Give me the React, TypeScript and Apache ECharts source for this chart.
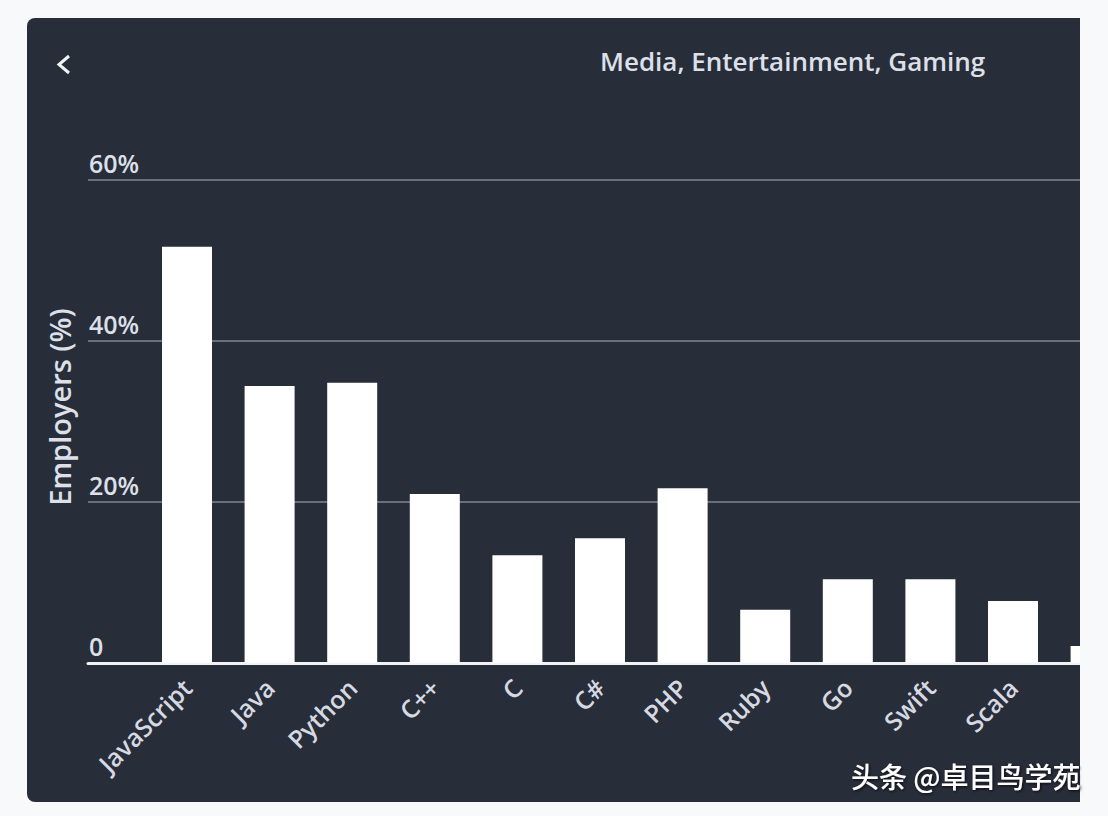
import React, { useEffect, useRef } from "react";
import * as echarts from "echarts";

const categories = ["JavaScript", "Java", "Python", "C++", "C", "C#", "PHP", "Ruby", "Go", "Swift", "Scala", ""];
const employersPct = [51.7, 34.4, 34.8, 21.0, 13.4, 15.5, 21.7, 6.6, 10.4, 10.4, 7.7, 2.1];
const yTicks = [0, 20, 40, 60];
const titleText = "Media, Entertainment, Gaming";
const yName = "Employers (%)";

export default function App() {
  const ref = useRef<HTMLDivElement>(null);
  useEffect(() => {
    const chart = echarts.init(ref.current!, null, { renderer: "svg" });
    const font = "'Open Sans', Roboto, sans-serif";
    const labelColor = "#dde0e8";
    chart.setOption({
      animation: false,
      backgroundColor: "#f8f9fa",
      title: {
        text: titleText,
        left: 600,
        top: 48,
        padding: 0,
        textStyle: { color: labelColor, fontSize: 26, fontWeight: 600, fontFamily: font },
      },
      grid: [
        { left: 88, right: 0, top: 180, bottom: 153 },
        { left: 145.7, width: 82.6 * 12, top: 180, bottom: 153 },
      ],
      xAxis: [
        {
          gridIndex: 0,
          type: "value",
          min: 0,
          max: 1,
          axisLine: { show: true, onZero: false, lineStyle: { color: "#f2f3f5", width: 3 } },
          axisTick: { show: false },
          axisLabel: { show: false },
          splitLine: { show: false },
        },
        {
          gridIndex: 1,
          type: "category",
          data: categories,
          axisLine: { show: false },
          axisTick: { show: false },
          axisLabel: {
            rotate: 45,
            margin: 20,
            interval: 0,
            color: "#d6d9e1",
            fontSize: 25,
            fontWeight: 600,
            fontFamily: font,
          },
        },
      ],
      yAxis: [
        {
          gridIndex: 0,
          type: "value",
          min: yTicks[0],
          max: yTicks[yTicks.length - 1],
          interval: 20,
          axisLine: { show: false },
          axisTick: { show: false },
          axisLabel: {
            inside: true,
            margin: 1,
            align: "left",
            verticalAlign: "bottom",
            padding: [0, 0, 5, 0],
            color: labelColor,
            fontSize: 25,
            fontWeight: 600,
            fontFamily: font,
            formatter: (v: number) => (v === 0 ? "0" : v + "%"),
          },
          splitLine: { show: true, lineStyle: { color: "#6a6f7b", width: 2 } },
        },
        {
          gridIndex: 1,
          type: "value",
          min: yTicks[0],
          max: yTicks[yTicks.length - 1],
          show: false,
          splitLine: { show: false },
        },
      ],
      series: [
        {
          type: "bar",
          xAxisIndex: 1,
          yAxisIndex: 1,
          data: employersPct,
          barWidth: 50,
          itemStyle: { color: "#ffffff" },
        },
      ],
      graphic: [
        {
          type: "rect",
          z: -10,
          shape: { x: 27, y: 18, width: 1150, height: 784, r: 8 },
          style: { fill: "#282d3a" },
        },
        {
          type: "polyline",
          z: 10,
          shape: { points: [[69, 56], [59, 64.5], [69, 73]] },
          style: { stroke: "#f2f3f5", lineWidth: 3, fill: null },
        },
        {
          type: "text",
          z: 10,
          x: 59,
          y: 407,
          rotation: Math.PI / 2,
          style: {
            text: yName,
            fill: labelColor,
            font: `600 29px ${font}`,
            align: "center",
            verticalAlign: "middle",
          },
        },
        {
          type: "rect",
          z: 50,
          shape: { x: 1080, y: 0, width: 200, height: 816 },
          style: { fill: "#f8f9fa" },
        },
        {
          type: "text",
          z: 60,
          x: 851,
          y: 776,
          style: {
            text: "头条 @卓目鸟学苑",
            fill: "#ffffff",
            font: "500 28px 'Noto Sans CJK SC', sans-serif",
            verticalAlign: "middle",
            textShadowColor: "rgba(0,0,0,0.8)",
            textShadowBlur: 3,
            textShadowOffsetX: 1,
            textShadowOffsetY: 1,
          },
        },
      ],
    });
    return () => chart.dispose();
  }, []);
  return (
    <div style={{ position: "fixed", left: 0, top: 0, width: 1108, height: 816, overflow: "hidden" }}>
      <div ref={ref} style={{ width: 1250, height: 816 }} />
    </div>
  );
}
